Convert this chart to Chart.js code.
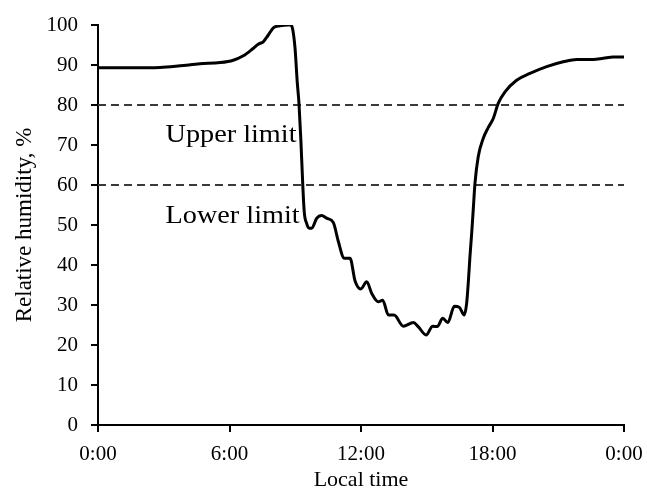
<!DOCTYPE html>
<html>
<head>
<meta charset="utf-8">
<script src="https://cdn.jsdelivr.net/npm/chart.js@4/dist/chart.umd.min.js"></script>
<style>
  html, body { margin: 0; padding: 0; background: #fff; }
  #wrap { width: 647px; height: 493px; position: relative; }
</style>
</head>
<body>
<div id="wrap"><canvas id="c" width="647" height="493"></canvas></div>
<script>
// Time of day (hours) and relative humidity (%)
const timeHours = [0, 1.46, 2.83, 3.74, 4.65, 5.57, 6.17, 6.63, 7.09, 7.31, 7.54, 7.77, 8.0, 8.3, 8.68, 8.79, 8.88, 8.99, 9.09, 9.17, 9.26, 9.34, 9.41, 9.52, 9.63, 9.75, 9.98, 10.21, 10.43, 10.74, 10.96, 11.24, 11.5, 11.73, 11.99, 12.26, 12.49, 12.79, 12.99, 13.25, 13.51, 13.93, 14.39, 14.61, 14.97, 15.27, 15.48, 15.73, 15.96, 16.26, 16.49, 16.71, 16.82, 16.9, 16.97, 17.05, 17.12, 17.2, 17.35, 17.58, 17.81, 18.04, 18.26, 18.57, 19.1, 19.71, 20.47, 21.23, 21.84, 22.6, 23.06, 23.51, 24.0];
const humidity = [89.3, 89.3, 89.4, 89.8, 90.3, 90.6, 91.2, 92.3, 94.2, 95.2, 95.8, 97.5, 99.3, 99.8, 100, 100, 99, 94.2, 85.8, 80.4, 70.8, 60.4, 53.3, 50.4, 49.2, 49.2, 51.7, 52.4, 51.7, 50.6, 46, 41.7, 41.7, 36, 34, 35.8, 32.9, 30.8, 31.2, 27.5, 27.5, 24.7, 25.6, 24.6, 22.5, 24.7, 24.6, 26.7, 25.6, 29.7, 29.4, 27.5, 30.4, 36, 42, 47.9, 53.7, 60.4, 67.1, 71.7, 74.4, 76.7, 80.4, 83.3, 86.2, 87.9, 89.6, 90.8, 91.4, 91.4, 91.7, 92.0, 92.0];

const upperLimit = 80;
const lowerLimit = 60;
const limitLabels = ['Upper limit', 'Lower limit'];

const xTickValues = [0, 6, 12, 18, 24];
const xTickLabels = ['0:00', '6:00', '12:00', '18:00', '0:00'];
const yTicks = [0, 10, 20, 30, 40, 50, 60, 70, 80, 90, 100];

const xTitle = 'Local time';
const yTitle = 'Relative humidity, %';

const FONT = "'Liberation Serif', 'Times New Roman', serif";

const curve = timeHours.map((t, i) => ({ x: t, y: humidity[i] }));
const limitLine = v => [{ x: 0, y: v }, { x: 24, y: v }];

// label placement (data coordinates) for the limit texts
const labelPos = [
  { x: 3.08, y: 70.8 },
  { x: 3.08, y: 50.4 }
];

const limitTextPlugin = {
  id: 'limitText',
  afterDatasetsDraw(chart) {
    const { ctx, scales } = chart;
    limitLabels.forEach((txt, i) => {
      const px = scales.x.getPixelForValue(labelPos[i].x);
      const py = scales.y.getPixelForValue(labelPos[i].y);
      ctx.save();
      ctx.fillStyle = '#000';
      ctx.font = "25px " + FONT;
      ctx.textAlign = 'left';
      ctx.textBaseline = 'alphabetic';
      ctx.translate(px, py);
      ctx.scale(1.13, 1);
      ctx.fillText(txt, 0, 0);
      ctx.restore();
    });
  }
};

new Chart(document.getElementById('c'), {
  type: 'scatter',
  data: {
    datasets: [
      {
        data: limitLine(upperLimit),
        showLine: true,
        borderColor: '#3a3a3a',
        borderWidth: 2,
        borderDash: [8, 5],
        pointRadius: 0,
        order: 2
      },
      {
        data: limitLine(lowerLimit),
        showLine: true,
        borderColor: '#3a3a3a',
        borderWidth: 2,
        borderDash: [8, 5],
        pointRadius: 0,
        order: 2
      },
      {
        data: curve,
        showLine: true,
        borderColor: '#000',
        borderWidth: 3,
        pointRadius: 0,
        cubicInterpolationMode: 'monotone',
        order: 1
      }
    ]
  },
  options: {
    responsive: false,
    animation: false,
    events: [],
    layout: { padding: { left: 0, right: 23, top: 25, bottom: 0 } },
    plugins: {
      legend: { display: false },
      tooltip: { enabled: false }
    },
    scales: {
      x: {
        type: 'linear',
        min: 0,
        max: 24,
        afterBuildTicks: s => { s.ticks = xTickValues.map(v => ({ value: v })); },
        ticks: {
          color: '#000',
          font: { family: FONT, size: 21 },
          padding: 10,
          maxRotation: 0,
          callback: (v) => xTickLabels[xTickValues.indexOf(v)]
        },
        grid: { display: true, drawOnChartArea: false, drawTicks: true, tickLength: 7, color: '#000', lineWidth: 2 },
        border: { display: true, color: '#000', width: 2 },
        title: { display: true, text: xTitle, color: '#000', font: { family: FONT, size: 22 }, padding: { top: 0, bottom: 0 } },
        afterFit: s => { s.height = 68; s.paddingLeft = 0; s.paddingRight = 0; }
      },
      y: {
        type: 'linear',
        min: 0,
        max: 100,
        afterBuildTicks: s => { s.ticks = yTicks.map(v => ({ value: v })); },
        ticks: {
          color: '#000',
          font: { family: FONT, size: 21 },
          padding: 13
        },
        grid: { display: true, drawOnChartArea: false, drawTicks: true, tickLength: 7, color: '#000', lineWidth: 2 },
        border: { display: true, color: '#000', width: 2 },
        title: { display: true, text: yTitle, color: '#000', font: { family: FONT, size: 23 }, padding: { top: 11, bottom: 0 } },
        afterFit: s => { s.width = 98; s.paddingTop = 0; s.paddingBottom = 0; }
      }
    }
  },
  plugins: [limitTextPlugin]
});
</script>
</body>
</html>
